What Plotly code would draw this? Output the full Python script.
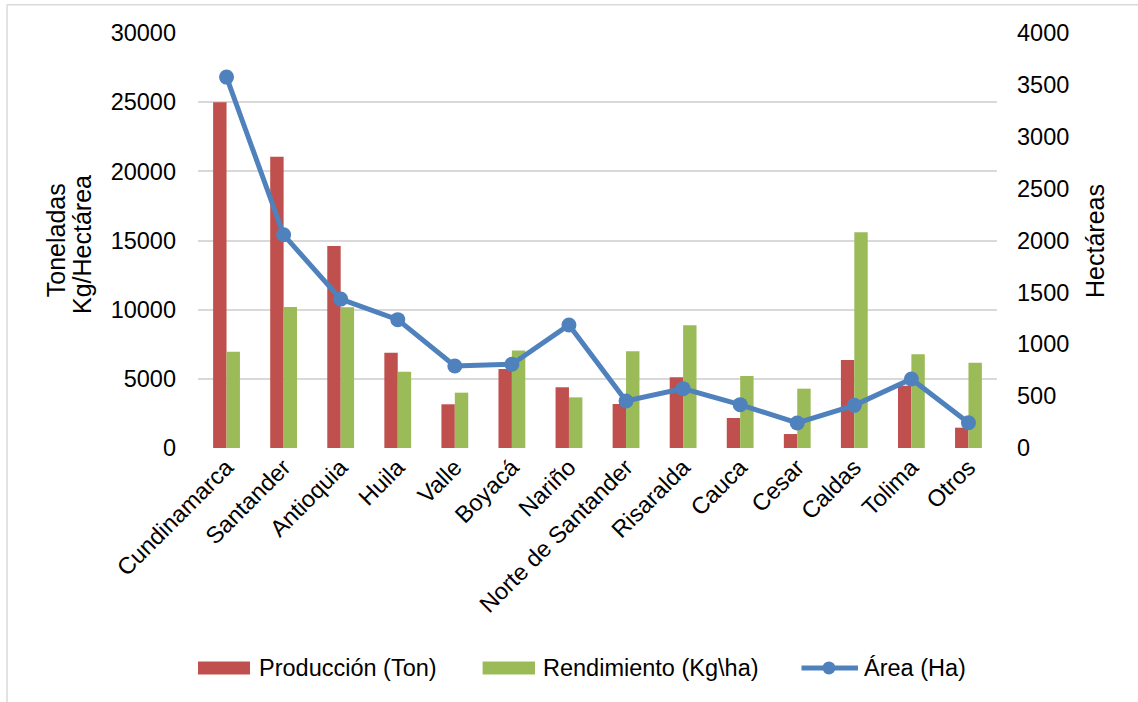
import plotly.graph_objects as go

# Production, yield and planted area by department
departamentos = ["Cundinamarca", "Santander", "Antioquia", "Huila", "Valle", "Boyacá",
                 "Nariño", "Norte de Santander", "Risaralda", "Cauca", "Cesar",
                 "Caldas", "Tolima", "Otros"]
produccion_ton = [25000, 21060, 14600, 6890, 3160, 5710, 4390, 3180, 5110, 2170, 1010, 6360, 4500, 1470]
rendimiento_kg_ha = [6960, 10190, 10170, 5520, 4000, 7040, 3660, 6990, 8870, 5200, 4290, 15590, 6770, 6170]
area_ha = [3575, 2055, 1435, 1237, 790, 807, 1186, 453, 572, 418, 241, 411, 665, 244]

left_ticks = [0, 5000, 10000, 15000, 20000, 25000, 30000]
right_ticks = [0, 500, 1000, 1500, 2000, 2500, 3000, 3500, 4000]

series_names = ["Producción (Ton)", "Rendimiento (Kg\\ha)", "Área (Ha)"]

FONT = "Liberation Sans, Arial, sans-serif"
RED = "#C0504D"
GREEN = "#9BBB59"
BLUE = "#4F81BD"
GRID = "#D9D9D9"
TICK_SIZE = 23.5
TITLE_SIZE = 25

fig = go.Figure()
fig.add_trace(go.Bar(x=departamentos, y=produccion_ton, name=series_names[0],
                     marker=dict(color=RED, line=dict(width=0)), showlegend=False))
fig.add_trace(go.Bar(x=departamentos, y=rendimiento_kg_ha, name=series_names[1],
                     marker=dict(color=GREEN, line=dict(width=0)), showlegend=False))
fig.add_trace(go.Scatter(x=departamentos, y=area_ha, name=series_names[2], yaxis="y2",
                         mode="lines+markers", showlegend=False,
                         line=dict(color=BLUE, width=5),
                         marker=dict(color=BLUE, size=15)))

# Legend drawn below the plot: wide swatches followed by the series names
legend_y = -0.530
swatch_h = 0.0157
legend_shapes = [
    dict(type="rect", xref="paper", yref="paper", x0=0.0, x1=0.0651,
         y0=legend_y - swatch_h, y1=legend_y + swatch_h, fillcolor=RED, line=dict(width=0)),
    dict(type="rect", xref="paper", yref="paper", x0=0.3562, x1=0.4218,
         y0=legend_y - swatch_h, y1=legend_y + swatch_h, fillcolor=GREEN, line=dict(width=0)),
    dict(type="line", xref="paper", yref="paper", x0=0.7553, x1=0.826,
         y0=legend_y, y1=legend_y, line=dict(color=BLUE, width=5)),
    dict(type="circle", xref="paper", yref="paper", xsizemode="pixel", ysizemode="pixel",
         xanchor=0.7897, yanchor=legend_y, x0=-6.5, x1=6.5, y0=-6.5, y1=6.5,
         fillcolor=BLUE, line=dict(width=0)),
]
legend_text = [
    dict(text=series_names[0], x=0.0738),
    dict(text=series_names[1], x=0.4299),
    dict(text=series_names[2], x=0.8310),
]
legend_annotations = [
    dict(text=t["text"], xref="paper", yref="paper", x=t["x"], y=legend_y,
         xanchor="left", yanchor="middle", showarrow=False,
         font=dict(size=TICK_SIZE))
    for t in legend_text
]

# Thin frame around the chart area
frame_shapes = [
    dict(type="line", xref="paper", yref="paper", x0=-0.239, x1=1.2,
         y0=1.068, y1=1.068, line=dict(color=GRID, width=1.5)),
    dict(type="line", xref="paper", yref="paper", x0=-0.239, x1=-0.239,
         y0=1.068, y1=-0.7, line=dict(color=GRID, width=1.5)),
]

fig.update_layout(
    width=1138, height=702,
    margin=dict(l=198, r=141, t=33, b=254, autoexpand=False),
    paper_bgcolor="white", plot_bgcolor="white",
    font=dict(family=FONT, size=TICK_SIZE, color="#000000"),
    barmode="group", bargap=0.53, bargroupgap=0,
    showlegend=False,
    xaxis=dict(range=[-0.5, 13.5], tickangle=-45, showgrid=False, showline=False,
               ticks="", tickfont=dict(size=TICK_SIZE), automargin=False),
    yaxis=dict(range=[0, 30000], tickvals=left_ticks, tickformat="d", showgrid=True,
               gridcolor=GRID, gridwidth=1.5, zeroline=False, showline=False,
               ticks="", ticklabelstandoff=21, tickfont=dict(size=TICK_SIZE),
               automargin=False),
    yaxis2=dict(range=[0, 4000], tickvals=right_ticks, tickformat="d", overlaying="y",
                side="right", showgrid=False, zeroline=False, showline=False, ticks="",
                ticklabelstandoff=19, tickfont=dict(size=TICK_SIZE), automargin=False),
    annotations=[
        dict(text="Toneladas", xref="paper", yref="paper",
             x=-0.178, y=0.5, xanchor="center", yanchor="middle", textangle=-90,
             showarrow=False, font=dict(size=TITLE_SIZE)),
        dict(text="Kg/Hectárea", xref="paper", yref="paper",
             x=-0.146, y=0.49, xanchor="center", yanchor="middle", textangle=-90,
             showarrow=False, font=dict(size=TITLE_SIZE)),
        dict(text="Hectáreas", xref="paper", yref="paper",
             x=1.122, y=0.5, xanchor="center", yanchor="middle", textangle=-90,
             showarrow=False, font=dict(size=TITLE_SIZE)),
    ] + legend_annotations,
    shapes=frame_shapes + legend_shapes,
)

fig.write_html("out.html")
